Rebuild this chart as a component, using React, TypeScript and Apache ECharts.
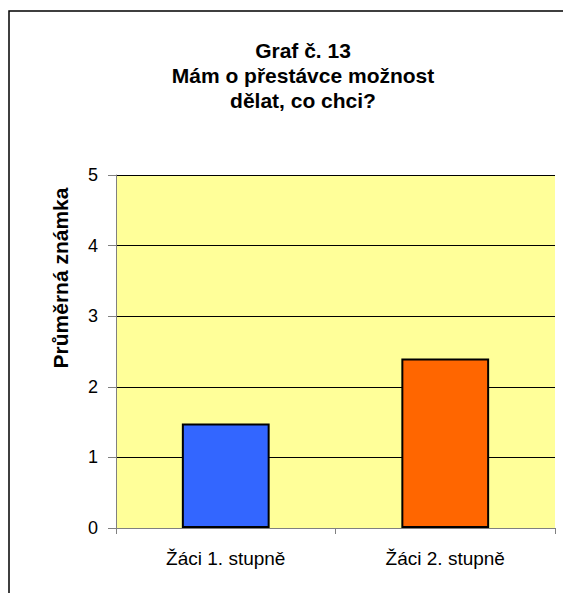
import React, { useEffect, useRef } from "react";
import * as echarts from "echarts";

const titleLines = ["Graf č. 13", "Mám o přestávce možnost", "dělat, co chci?"];
const yAxisName = "Průměrná známka";
const categories = ["Žáci 1. stupně", "Žáci 2. stupně"];
const values = [1.48, 2.4];
const barColors = ["#3366FF", "#FF6600"];
const yMin = 0;
const yMax = 5;
const yInterval = 1;

const FONT = "'Liberation Sans', Arial, sans-serif";

export default function App() {
  const ref = useRef<HTMLDivElement>(null);
  useEffect(() => {
    if (!ref.current) return;
    const chart = echarts.init(ref.current, undefined, { renderer: "svg" });
    chart.setOption({
      animation: false,
      backgroundColor: "#ffffff",
      textStyle: { fontFamily: FONT },
      title: {
        text: titleLines.join("\n"),
        left: 298,
        textAlign: "center",
        top: 33,
        textStyle: {
          fontFamily: FONT,
          fontSize: 21,
          fontWeight: "bold",
          color: "#000",
          lineHeight: 25,
        },
      },
      graphic: [
        {
          type: "rect",
          shape: { x: 9, y: 11, width: 700, height: 700 },
          style: { fill: "none", stroke: "#000", lineWidth: 1.5 },
          silent: true,
        },
        {
          type: "text",
          x: 60,
          y: 278,
          rotation: Math.PI / 2,
          style: {
            text: yAxisName,
            fontFamily: FONT,
            fontSize: 21,
            fontWeight: "bold",
            fill: "#000",
            align: "center",
            verticalAlign: "middle",
          },
        },
      ],
      grid: {
        left: 116,
        right: 8,
        top: 175,
        bottom: 65,
        show: true,
        backgroundColor: "#FFFF99",
        borderWidth: 0,
      },
      xAxis: {
        type: "category",
        data: categories,
        axisLine: { show: true, lineStyle: { color: "#808080", width: 1 } },
        axisTick: { show: true, length: 6, lineStyle: { color: "#808080" } },
        axisLabel: { fontSize: 19, color: "#000", margin: 21, fontFamily: FONT },
      },
      yAxis: {
        type: "value",
        min: yMin,
        max: yMax,
        interval: yInterval,
        axisLine: { show: true, lineStyle: { color: "#808080", width: 1 } },
        axisTick: { show: true, length: 8, lineStyle: { color: "#808080" } },
        axisLabel: { fontSize: 18, color: "#000", margin: 18, fontFamily: FONT },
        splitLine: { show: true, lineStyle: { color: "#000", width: 1 } },
      },
      series: [
        {
          type: "bar",
          barWidth: "40%",
          data: values.map((v, i) => ({
            value: v,
            itemStyle: { color: barColors[i], borderColor: "#000", borderWidth: 2 },
          })),
        },
      ],
    });
    return () => chart.dispose();
  }, []);
  return (
    <div
      ref={ref}
      style={{ position: "fixed", left: 0, top: 0, width: 563, height: 593, background: "#fff" }}
    />
  );
}
